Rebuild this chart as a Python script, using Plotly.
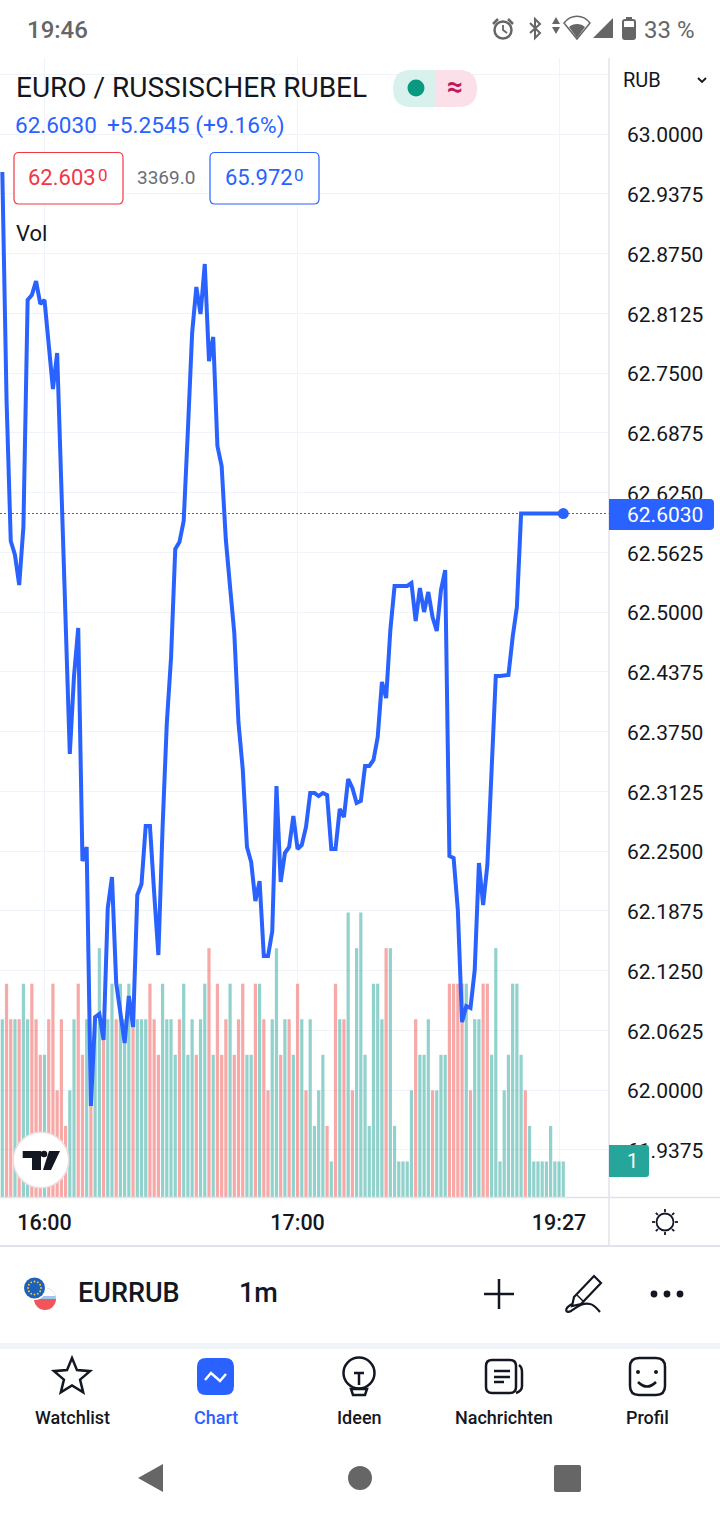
import math
import re
import plotly.graph_objects as go

# Figure size, same as the phone screenshot
W = 720
H = 1520

# Chart data (one bar per minute)
close = [
    62.9603, 62.7218, 62.5743, 62.5596, 62.5282, 62.5889, 62.8264, 62.8316, 62.8462, 62.8222,
    62.8264, 62.7793, 62.7333, 62.7709, 62.6224, 62.4990, 62.3515, 62.4331, 62.4833, 62.2395,
    62.2542, 61.9833, 62.0764, 62.0795, 62.0523, 62.1904, 62.2228, 62.1119, 62.0816, 62.0492,
    62.0983, 62.0659, 62.2040, 62.2155, 62.2762, 62.2762, 62.2061, 62.1412, 62.2751, 62.3839,
    62.4519, 62.5659, 62.5732, 62.5952, 62.6904, 62.7918, 62.8400, 62.8117, 62.8640, 62.7625,
    62.7877, 62.6736, 62.6527, 62.5753, 62.5262, 62.4780, 62.3839, 62.3358, 62.2542, 62.2385,
    62.1977, 62.2186, 62.1402, 62.1402, 62.1663, 62.3180, 62.2176, 62.2479, 62.2542, 62.2866,
    62.2521, 62.2563, 62.2751, 62.3107, 62.3107, 62.3075, 62.3107, 62.3086, 62.2521, 62.2521,
    62.2939, 62.2856, 62.3253, 62.3159, 62.3002, 62.3023, 62.3389, 62.3389, 62.3452, 62.3692,
    62.4268, 62.4100, 62.4812, 62.5272, 62.5272, 62.5272, 62.5272, 62.5303, 62.4906, 62.5251,
    62.5000, 62.5209, 62.4948, 62.4801, 62.5230, 62.5439, 62.2448, 62.2427, 62.1883, 62.0711,
    62.0879, 62.0858, 62.1255, 62.2375, 62.1935, 62.2354, 62.3400, 62.4331, 62.4331, 62.4331,
    62.4341, 62.4738, 62.5052, 62.6030, 62.6030, 62.6030, 62.6030, 62.6030, 62.6030, 62.6030,
    62.6030, 62.6030, 62.6030, 62.6030,
]
volume = [
    5, 6, 5, 5, 5, 6, 5, 6, 5, 4, 4, 5, 6, 3, 5, 2, 3, 5, 6, 4,
    5, 4, 5, 7, 5, 5, 6, 5, 6, 5, 6, 5, 5, 5, 5, 6, 5, 4, 6, 5,
    5, 4, 5, 6, 4, 5, 4, 5, 6, 7, 4, 6, 4, 5, 6, 4, 5, 6, 4, 4,
    6, 6, 5, 3, 5, 7, 4, 5, 5, 4, 6, 5, 3, 5, 2, 3, 4, 2, 1, 6,
    5, 5, 8, 3, 7, 8, 4, 2, 6, 6, 5, 7, 7, 2, 1, 1, 1, 3, 5, 4,
    4, 5, 3, 3, 4, 4, 6, 6, 6, 6, 6, 3, 5, 5, 6, 6, 4, 7, 1, 3,
    4, 6, 6, 4, 3, 2, 1, 1, 1, 1, 2, 1, 1, 1,
]
# g = up minute, r = down minute
direction = list(
    "grrgrggrrrgrrrrrggrr"
    "grggrggrgggrgggrrrgg"
    "ggrgggrggrgrrrgrrrgg"
    "rgrrggrgrgrgrggggrgr"
    "grgrgggggggrggggggrg"
    "ggrgggrrrrgrggrrgggg"
    "ggggrggggggggg"
)

# Axis ticks
price_ticks = [
    63.0625, 63.0, 62.9375, 62.875, 62.8125, 62.75, 62.6875, 62.625, 62.5625, 62.5, 62.4375,
    62.375, 62.3125, 62.25, 62.1875, 62.125, 62.0625, 62.0, 61.9375,
]
time_tick_bars = [10, 70, 132]
time_tick_labels = ["16:00", "17:00", "19:27"]

BLUE = "#2962ff"
INK = "#131722"
GREY = "#666666"
GRID = "#f0f3fa"
AXIS = "#e0e3eb"

X_MIN = -0.55
X_MAX = 143.84

bars = list(range(len(close)))


# Helpers: everything around the chart is placed in screenshot pixels
def px(x):
    return x / W


def py(y):
    return 1 - y / H


def path(d):
    # turn "M x y L x y ..." in pixels into paper coordinates
    out = []
    is_x = True
    for tok in re.findall(r"[MLCQZ]|-?[\d.]+", d):
        if tok in "MLCQZ":
            out.append(tok)
        else:
            out.append(f"{px(float(tok)):.5f}" if is_x else f"{py(float(tok)):.5f}")
            is_x = not is_x
    return " ".join(out)


shapes = []
notes = []


def add_path(d, fill=None, line=None, width=2.5, layer="above"):
    shapes.append(dict(type="path", path=path(d), xref="paper", yref="paper", layer=layer,
                       fillcolor=fill or "rgba(0,0,0,0)",
                       line=dict(color=line or "rgba(0,0,0,0)", width=width if line else 0)))


def rrect(x0, y0, x1, y1, r):
    return (f"M {x0 + r} {y0} L {x1 - r} {y0} Q {x1} {y0} {x1} {y0 + r} L {x1} {y1 - r} "
            f"Q {x1} {y1} {x1 - r} {y1} L {x0 + r} {y1} Q {x0} {y1} {x0} {y1 - r} "
            f"L {x0} {y0 + r} Q {x0} {y0} {x0 + r} {y0} Z")


def circle(cx, cy, r, fill=None, line=None, width=2.5):
    shapes.append(dict(type="circle", xref="paper", yref="paper", layer="above",
                       x0=px(cx - r), x1=px(cx + r), y0=py(cy + r), y1=py(cy - r),
                       fillcolor=fill or "rgba(0,0,0,0)",
                       line=dict(color=line or "rgba(0,0,0,0)", width=width if line else 0)))


def seg(x0, y0, x1, y1, color, width=1):
    shapes.append(dict(type="line", xref="paper", yref="paper", layer="above",
                       x0=px(x0), x1=px(x1), y0=py(y0), y1=py(y1),
                       line=dict(color=color, width=width)))


def txt(x, y, text, size, color=INK, anchor="left", weight=400):
    # left aligned text renders a little to the right of its anchor
    x = x - 1.5 if anchor == "left" else x
    notes.append(dict(x=px(x), y=py(y), xref="paper", yref="paper", text=text, showarrow=False,
                      xanchor=anchor, yanchor="middle", borderpad=0,
                      font=dict(family="Roboto", size=size, color=color, weight=weight)))


def chord(cx, cy, r, a0, a1, n=24):
    pts = [(cx + r * math.cos(math.radians(a0 + (a1 - a0) * i / n)),
            cy + r * math.sin(math.radians(a0 + (a1 - a0) * i / n))) for i in range(n + 1)]
    return "M " + " L ".join(f"{a:.2f} {b:.2f}" for a, b in pts) + " Z"


# Chart frame lines
seg(609, 58, 609, 1245, AXIS, 1.5)
seg(0, 1197.5, W, 1197.5, AXIS, 1.5)
seg(0, 1246, W, 1246, AXIS, 2)

# Status bar
txt(27, 30, "19:46", 24, GREY, weight=500)
txt(644, 30, "33 %", 24, GREY, weight=400)
circle(503, 30, 8.5, line=GREY, width=2.5)
add_path("M 503 25 L 503 30 L 507 33", line=GREY, width=1.8)
add_path("M 493 24 L 498 19", line=GREY, width=2.5)
add_path("M 508 19 L 513 24", line=GREY, width=2.5)
add_path("M 530 23 L 540 33 L 535 38 L 535 19 L 540 24 L 530 33", line=GREY, width=2)
add_path("M 556 17 L 560 24 L 552 24 Z M 556 34 L 560 27 L 552 27 Z", fill=GREY)
add_path("M 564 23 C 571 14 583 14 590 23 L 577 39 Z", line=GREY, width=1.5)
add_path("M 569 27 C 573 23 581 23 585 27 L 577 38 Z", fill=GREY)
add_path("M 593 38 L 613 38 L 613 18 Z", fill=GREY)
add_path(rrect(623, 20, 635, 39, 2), line=GREY, width=2)
add_path("M 626 17 L 632 17 L 632 20 L 626 20 Z", fill=GREY)
add_path(rrect(623, 27, 635, 39, 2), fill=GREY)

# Header over the chart
txt(16, 88, "EURO / RUSSISCHER RUBEL", 28)
add_path("M 411 70 L 435 70 L 435 107 L 411 107 Q 393 107 393 88.5 Q 393 70 411 70 Z", fill="#d9f1ed")
add_path("M 435 70 L 459 70 Q 477 70 477 88.5 Q 477 107 459 107 L 435 107 Z", fill="#fbdfe9")
circle(416, 88, 8.5, fill="#089981")
txt(455, 87, "≈", 28, "#c2185b", "center", 700)
txt(15, 125, "62.6030", 22.5, BLUE)
txt(107, 125, "+5.2545 (+9.16%)", 22.7, BLUE)
add_path(rrect(14, 152.5, 123, 204, 5), fill="#ffffff", line="#f23645", width=1.2)
add_path(rrect(210, 152.5, 319, 204, 5), fill="#ffffff", line=BLUE, width=1.2)
txt(28, 177, "62.603", 22, "#f23645")
txt(98, 175, "0", 17, "#f23645")
txt(137, 177, "3369.0", 19, "#6a6d78")
txt(225, 177, "65.972", 22, BLUE)
txt(294, 175, "0", 17, BLUE)
txt(16, 233, "Vol", 22)

# Currency selector and price labels on the scale
txt(623, 80, "RUB", 20)
add_path("M 698 78 L 702 82 L 706 78", line=INK, width=1.8)
add_path("M 609 499 L 710 499 Q 714 499 714 503 L 714 526 Q 714 530 710 530 L 609 530 Z", fill=BLUE)
txt(664.5, 514.5, f"{close[-1]:.4f}", 21, "#ffffff", "center")
add_path("M 609 1145 L 646 1145 Q 649 1145 649 1148 L 649 1174 Q 649 1177 646 1177 L 609 1177 Z", fill="#26a69a")
txt(632, 1161, "1", 20, "#ffffff", "center")

# Sun icon of the time scale
circle(665, 1222, 8.5, line=INK, width=1.8)
for a in range(0, 360, 45):
    seg(665 + 10 * math.cos(math.radians(a)), 1222 + 10 * math.sin(math.radians(a)),
        665 + 13 * math.cos(math.radians(a)), 1222 + 13 * math.sin(math.radians(a)), INK, 1.8)

# TradingView badge
circle(41, 1160, 28.5, fill="#ecdfe0")
circle(41, 1160, 27, fill="#ffffff")
add_path("M 22.7 1151 L 41 1151 L 41 1170 L 32 1170 L 32 1158 L 22.7 1158 Z", fill=INK)
circle(44, 1154, 3.3, fill=INK)
add_path("M 49 1151 L 60 1151 L 51 1170 L 43 1170 Z", fill=INK)

# Symbol toolbar
circle(45, 1299, 11, fill="#f2545b")
add_path(chord(45, 1299, 11, 180, 360), fill="#ffffff")
add_path("M 34.5 1296 L 55.5 1296 L 56 1299 L 34 1299 Z", fill="#9cc6ee")
circle(34.5, 1288, 12, fill="#ffffff")
circle(34.5, 1288, 10.5, fill="#1d62b8")
for a in range(0, 360, 30):
    circle(34.5 + 6.5 * math.cos(math.radians(a)), 1288 + 6.5 * math.sin(math.radians(a)), 0.9, fill="#ffcc33")
txt(78, 1293, "EURRUB", 27, weight=500)
txt(239, 1293, "1m", 27, weight=500)
seg(484, 1294, 514, 1294, INK, 2.5)
seg(499, 1279, 499, 1309, INK, 2.5)
add_path("M 594 1276 L 601 1283 L 581 1304 L 572 1306 L 574 1297 Z", line=INK, width=2.2)
add_path("M 577 1295 L 584 1302", line=INK, width=1.5)
add_path("M 572 1304 C 563 1309 566 1314 571 1311 C 577 1307 583 1302 590 1304 C 595 1305 597 1309 600 1312",
         line=INK, width=2.2)
for x in (654, 667, 680):
    circle(x, 1294, 3.4, fill=INK)
shapes.append(dict(type="rect", xref="paper", yref="paper", layer="above", x0=0, x1=1,
                   y0=py(1349), y1=py(1343), fillcolor="#f0f3f7", line=dict(width=0)))

# Bottom navigation
star = []
for i in range(10):
    r = 19 if i % 2 == 0 else 8.5
    a = math.radians(-90 + 36 * i)
    star.append((72 + r * math.cos(a), 1377 + r * math.sin(a)))
add_path("M " + " L ".join(f"{a:.2f} {b:.2f}" for a, b in star) + " Z", line=INK, width=2.5)

add_path(rrect(197, 1358, 234, 1395, 9), fill=BLUE)
add_path("M 205 1380 L 211 1373 L 220 1381 L 226 1374", line="#ffffff", width=2.5)

circle(359, 1373, 15.5, line=INK)
add_path("M 354 1373 L 364 1373 M 359 1373 L 359 1385", line=INK, width=2.5)
add_path("M 351 1389 L 367 1389 L 365 1395 L 353 1395 Z", line=INK, width=2.5)

add_path(rrect(486, 1360, 516, 1393, 6), line=INK)
add_path("M 519 1365 Q 522 1367 522 1372 L 522 1386 Q 522 1391 516 1393", line=INK, width=2.5)
add_path("M 494 1371 L 510 1371 M 494 1377 L 510 1377 M 494 1382 L 504 1382", line=INK, width=2.5)

add_path(rrect(630, 1358, 665, 1395, 9), line=INK)
circle(638, 1372, 2, fill=INK)
circle(656, 1372, 2, fill=INK)
add_path("M 638 1382 Q 647 1391 656 1382", line=INK, width=2.5)

nav_labels = ["Watchlist", "Chart", "Ideen", "Nachrichten", "Profil"]
nav_x = [72, 216, 359, 504, 647]
for x, label in zip(nav_x, nav_labels):
    txt(x, 1417, label, 18, BLUE if label == "Chart" else INK, "center", 500)

# Android buttons
add_path("M 138 1478 L 163 1464 L 163 1492 Z", fill=GREY)
circle(360, 1478, 12, fill=GREY)
add_path(rrect(554, 1465, 581, 1492, 2), fill=GREY)

fig = go.Figure()

# Volume first, so that the price line is drawn over it
fig.add_trace(go.Bar(
    x=bars,
    y=volume,
    width=0.76,
    marker=dict(color=["rgba(38,166,154,0.5)" if d == "g" else "rgba(239,83,80,0.5)" for d in direction],
                line=dict(width=0)),
    xaxis="x",
    yaxis="y",
    hoverinfo="skip",
))
# Dotted line for the last price
fig.add_trace(go.Scatter(
    x=[X_MIN, X_MAX],
    y=[close[-1], close[-1]],
    mode="lines",
    line=dict(color=BLUE, width=1, dash="2px,2px"),
    xaxis="x",
    yaxis="y2",
    hoverinfo="skip",
))
fig.add_trace(go.Scatter(
    x=bars,
    y=close,
    mode="lines",
    line=dict(color=BLUE, width=4),
    xaxis="x",
    yaxis="y2",
    hoverinfo="skip",
))
fig.add_trace(go.Scatter(
    x=bars[-1:],
    y=close[-1:],
    mode="markers",
    marker=dict(color=BLUE, size=11),
    xaxis="x",
    yaxis="y2",
    hoverinfo="skip",
))

fig.update_layout(
    width=W,
    height=H,
    margin=dict(l=0, r=0, t=0, b=0),
    paper_bgcolor="#ffffff",
    plot_bgcolor="#ffffff",
    showlegend=False,
    xaxis=dict(
        domain=[0, px(609)],
        range=[X_MIN, X_MAX],
        tickmode="array",
        tickvals=time_tick_bars,
        ticktext=time_tick_labels,
        showgrid=True,
        gridcolor=GRID,
        gridwidth=1,
        zeroline=False,
        ticks="",
        ticklabelstandoff=10,
        tickfont=dict(family="Roboto", size=21.5, color=INK, weight=500),
    ),
    yaxis=dict(
        domain=[py(1197), py(58)],
        range=[0, 32.04],
        visible=False,
    ),
    yaxis2=dict(
        overlaying="y",
        side="right",
        anchor="x",
        range=[61.8881, 63.0795],
        tickmode="array",
        tickvals=price_ticks,
        ticktext=["" if v > 63 else f"{v:.4f}" for v in price_ticks],
        showgrid=True,
        gridcolor=GRID,
        gridwidth=1,
        zeroline=False,
        ticks="",
        ticklabelstandoff=17,
        ticklabelshift=1,
        tickfont=dict(family="Roboto", size=21, color=INK),
    ),
    annotations=notes,
)
for s in shapes:
    fig.add_shape(**s)

fig.write_html("out.html", config={"displayModeBar": False},
               post_script="document.body.style.margin='0';")
